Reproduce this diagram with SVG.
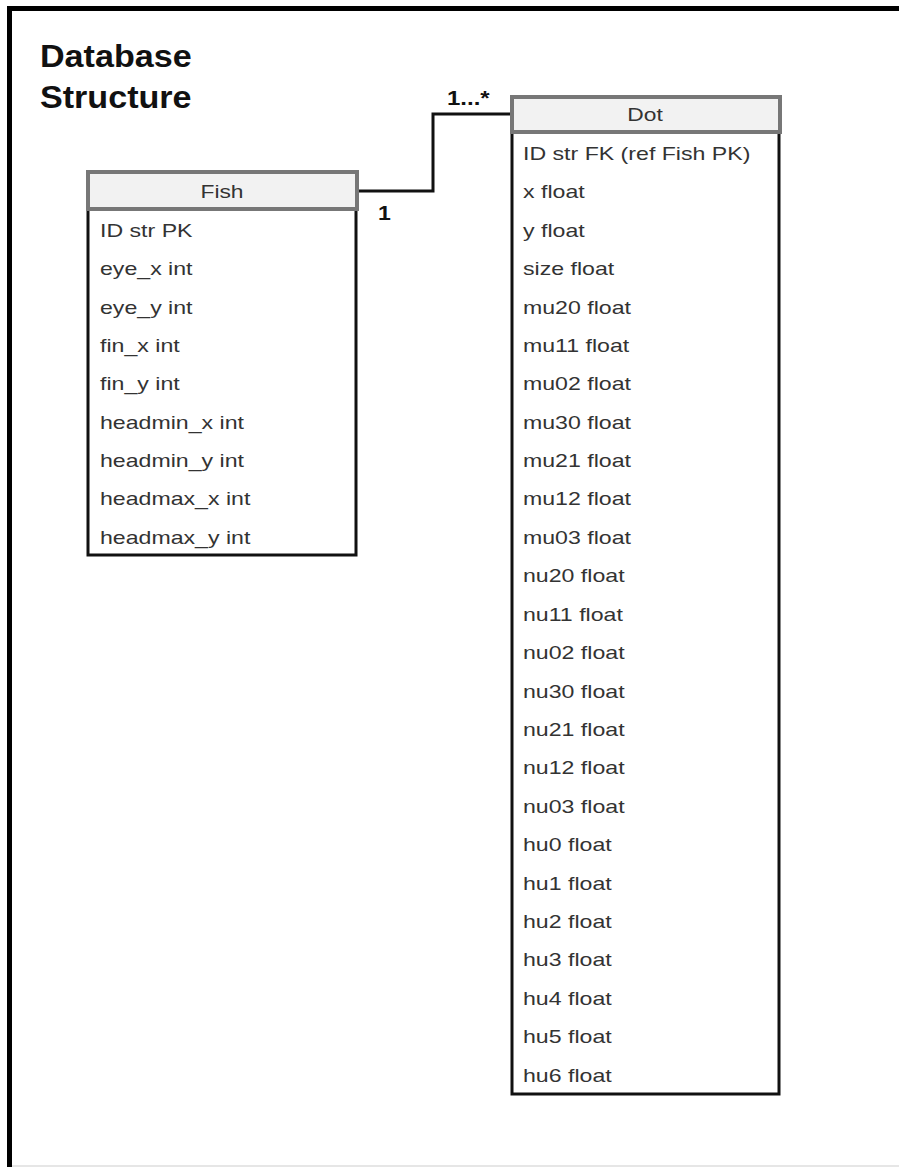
<svg xmlns="http://www.w3.org/2000/svg" width="899" height="1167" viewBox="0 0 899 1167">
<style>
text{font-family:"Liberation Sans",Arial,Helvetica,sans-serif}
.frame{fill:none;stroke:#000;stroke-width:5}
.hdr{fill:#f2f2f2;stroke:#777;stroke-width:4}
.body{fill:#fff;stroke:#111;stroke-width:3}
.t{font-size:18.5px;fill:#333}
.h{font-size:19px;fill:#333;text-anchor:middle}
.b{font-weight:bold;fill:#111}
.conn{fill:none;stroke:#111;stroke-width:3}
</style>
<rect x="0" y="0" width="899" height="1167" fill="#fff"/>
<path class="frame" d="M9.5 1167 V8.5 H899"/>
<line x1="12" y1="1166" x2="899" y2="1166" stroke="#e6e6e6" stroke-width="2"/>
<g id="title" transform="translate(40,0) scale(1.1,1)">
<text class="b" x="0" y="67" font-size="31">Database</text>
<text class="b" x="0" y="108" font-size="31">Structure</text>
</g>
<g id="connectors">
<path class="conn" d="M358 191 H433 V114 H511"/>
<g transform="translate(378,0) scale(1.15,1)"><text class="b" x="0" y="220" font-size="20">1</text></g>
<g transform="translate(447,0) scale(1.2,1)"><text class="b" x="0" y="105" font-size="20">1...*</text></g>
</g>
<g id="fish">
<rect class="body" x="88" y="209" width="268" height="346"/>
<rect class="hdr" x="88" y="172" width="269" height="37"/>
<g transform="translate(222,0) scale(1.2,1)"><text class="h" x="0" y="198">Fish</text></g>
<g class="t" transform="translate(100,0) scale(1.25,1)">
<text x="0" y="237">ID str PK</text>
<text x="0" y="275">eye_x int</text>
<text x="0" y="314">eye_y int</text>
<text x="0" y="352">fin_x int</text>
<text x="0" y="390">fin_y int</text>
<text x="0" y="429">headmin_x int</text>
<text x="0" y="467">headmin_y int</text>
<text x="0" y="505">headmax_x int</text>
<text x="0" y="544">headmax_y int</text>
</g>
</g>
<g id="dot">
<rect class="body" x="512" y="132" width="267" height="962"/>
<rect class="hdr" x="512" y="97" width="268" height="35"/>
<g transform="translate(645,0) scale(1.2,1)"><text class="h" x="0" y="121">Dot</text></g>
<g class="t" transform="translate(523,0) scale(1.25,1)">
<text x="0" y="160">ID str FK (ref Fish PK)</text>
<text x="0" y="198">x float</text>
<text x="0" y="237">y float</text>
<text x="0" y="275">size float</text>
<text x="0" y="314">mu20 float</text>
<text x="0" y="352">mu11 float</text>
<text x="0" y="390">mu02 float</text>
<text x="0" y="429">mu30 float</text>
<text x="0" y="467">mu21 float</text>
<text x="0" y="505">mu12 float</text>
<text x="0" y="544">mu03 float</text>
<text x="0" y="582">nu20 float</text>
<text x="0" y="621">nu11 float</text>
<text x="0" y="659">nu02 float</text>
<text x="0" y="698">nu30 float</text>
<text x="0" y="736">nu21 float</text>
<text x="0" y="774">nu12 float</text>
<text x="0" y="813">nu03 float</text>
<text x="0" y="851">hu0 float</text>
<text x="0" y="890">hu1 float</text>
<text x="0" y="928">hu2 float</text>
<text x="0" y="966">hu3 float</text>
<text x="0" y="1005">hu4 float</text>
<text x="0" y="1043">hu5 float</text>
<text x="0" y="1082">hu6 float</text>
</g>
</g>
</svg>
